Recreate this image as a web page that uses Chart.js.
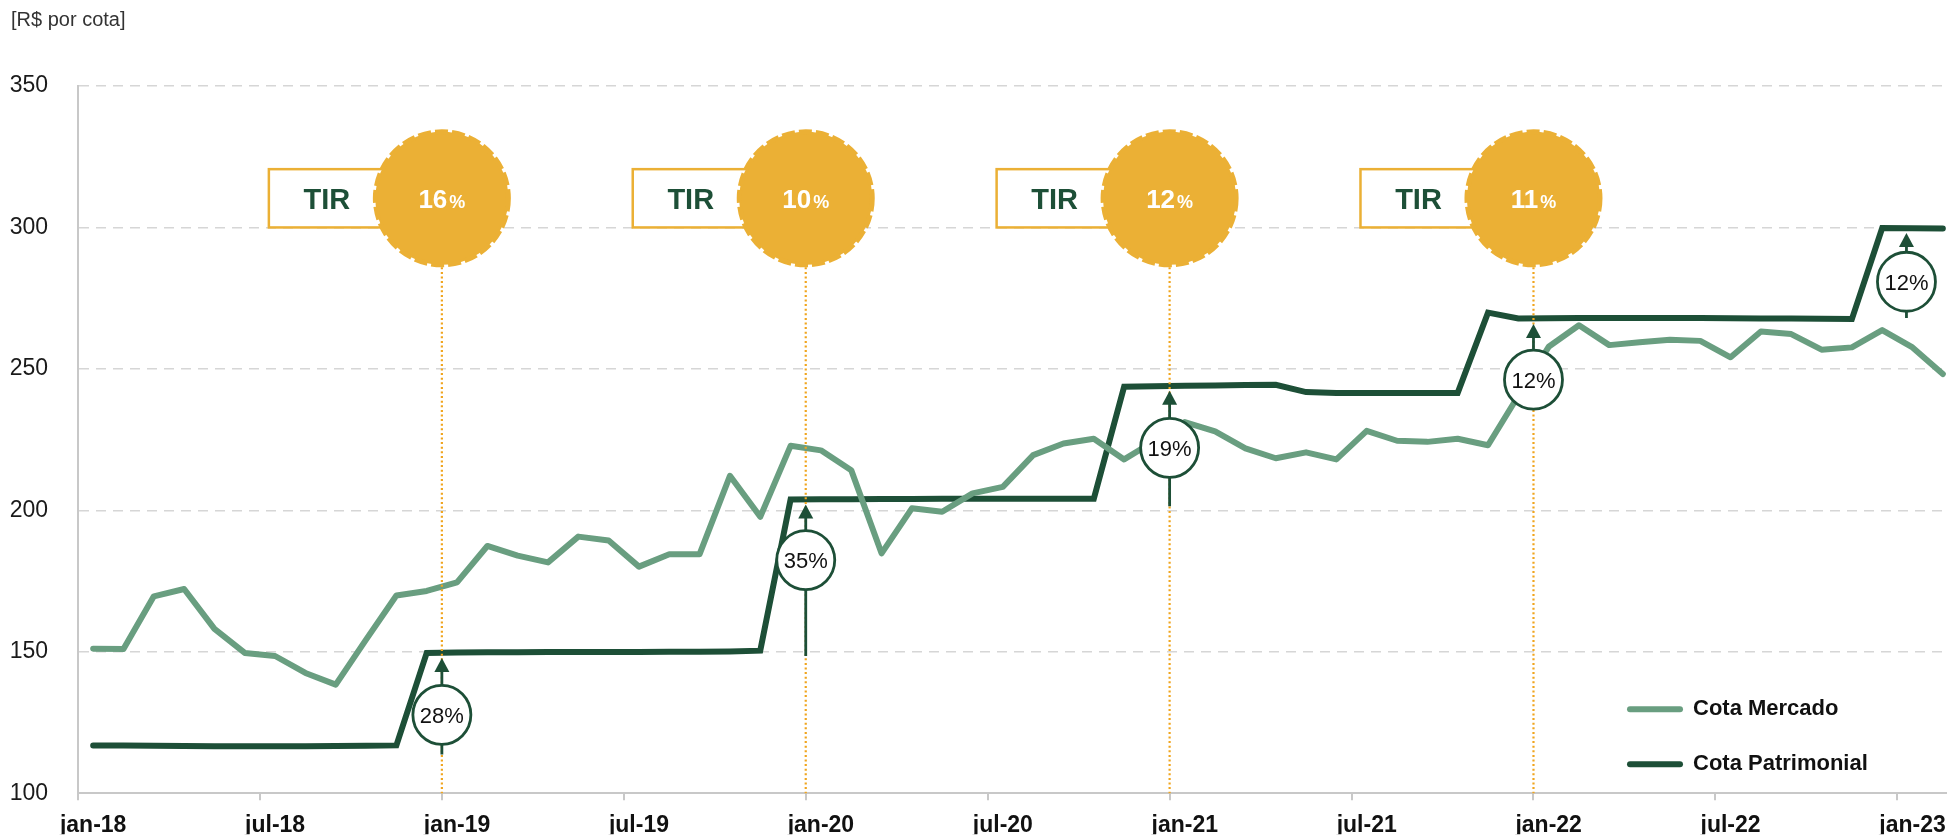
<!DOCTYPE html>
<html lang="pt-BR">
<head>
<meta charset="utf-8">
<title>Cota Mercado x Cota Patrimonial</title>
<script src="https://cdn.jsdelivr.net/npm/chart.js@4.4.0/dist/chart.umd.min.js"></script>
<style>
    html, body { margin: 0; padding: 0; background: #ffffff; overflow: hidden; }
    #wrap { position: relative; width: 1958px; height: 837px; }
</style>
</head>
<body>
<div id="wrap"><canvas id="cotaChart"></canvas></div>
<script>
const meses = [
    "jan-18", "fev-18", "mar-18", "abr-18", "mai-18", "jun-18", "jul-18", "ago-18", "set-18", "out-18", "nov-18", "dez-18",
    "jan-19", "fev-19", "mar-19", "abr-19", "mai-19", "jun-19", "jul-19", "ago-19", "set-19", "out-19", "nov-19", "dez-19",
    "jan-20", "fev-20", "mar-20", "abr-20", "mai-20", "jun-20", "jul-20", "ago-20", "set-20", "out-20", "nov-20", "dez-20",
    "jan-21", "fev-21", "mar-21", "abr-21", "mai-21", "jun-21", "jul-21", "ago-21", "set-21", "out-21", "nov-21", "dez-21",
    "jan-22", "fev-22", "mar-22", "abr-22", "mai-22", "jun-22", "jul-22", "ago-22", "set-22", "out-22", "nov-22", "dez-22",
    "jan-23", "fev-23"
];

const cotaMercado = [
    151.1, 151.0, 169.6, 172.2, 158.1, 149.6, 148.5, 142.5, 138.4, 154.3, 169.9, 171.5,
    174.5, 187.4, 184.0, 181.6, 190.7, 189.3, 180.1, 184.5, 184.5, 212.2, 197.7, 222.8,
    221.2, 214.2, 184.8, 200.7, 199.5, 206.0, 208.3, 219.5, 223.6, 225.3, 218.0, 224.5,
    231.2, 227.9, 221.9, 218.4, 220.5, 218.0, 228.1, 224.6, 224.2, 225.3, 223.0, 240.5,
    257.8, 265.4, 258.4, 259.4, 260.3, 259.9, 254.1, 263.2, 262.3, 256.8, 257.6, 263.7,
    257.6, 248.2
];

const cotaPatrimonial = [
    116.9, 116.9, 116.8, 116.7, 116.6, 116.6, 116.6, 116.6, 116.7, 116.8, 116.9, 149.6,
    149.7, 149.8, 149.8, 149.9, 149.9, 149.9, 149.9, 150.0, 150.0, 150.1, 150.4, 203.8,
    203.9, 203.9, 204.0, 204.0, 204.1, 204.1, 204.1, 204.1, 204.1, 204.1, 243.7, 243.9,
    244.0, 244.1, 244.3, 244.4, 241.8, 241.5, 241.5, 241.5, 241.5, 241.5, 269.9, 267.8,
    267.9, 268.0, 268.0, 268.0, 268.0, 268.0, 267.9, 267.8, 267.8, 267.7, 267.6, 299.8,
    299.7, 299.6
];

const yTicks = [100, 150, 200, 250, 300, 350];

// TIR de cada ano (selos amarelos)
const tirMeses = ["jan-19", "jan-20", "jan-21", "jan-22"];
const tirValores = ["16", "10", "12", "11"];

// saltos da cota patrimonial
const saltoRotulos = ["28%", "35%", "19%", "12%", "12%"];
const saltoPosicao = [11.5, 23.5, 35.5, 47.5, 59.8];
const saltoDe = [113.7, 148.5, 201.4, null, 268.0];
const saltoPara = [149.6, 203.8, 244.0, 267.6, 299.8];
const saltoCentro = [127.7, 182.4, 222.1, 246.2, 280.8];

const FONTE = "'Liberation Sans', Arial, Helvetica, sans-serif";
const verdeClaro = "#699e80";
const verdeEscuro = "#1d4f37";
const dourado = "#ebb035";
const laranja = "#f0a51e";
const cinzaEixo = "#c8c8c8";

Chart.defaults.font.family = FONTE;

function mostraRotulo(i)
{
    const m = meses[i];
    return m !== undefined && (m.startsWith("jan") || m.startsWith("jul"));
}

function desenhaTir(ctx, cx, topo, base, valor)
{
    const cy = (topo + base) / 2;
    const r = 66.5;

    // caixa "TIR"
    ctx.save();
    ctx.fillStyle = "#ffffff";
    ctx.strokeStyle = dourado;
    ctx.lineWidth = 2.5;
    ctx.fillRect(cx - 173, topo, 173, base - topo);
    ctx.strokeRect(cx - 173, topo, 173, base - topo);

    ctx.fillStyle = verdeEscuro;
    ctx.font = "bold 29px " + FONTE;
    ctx.textAlign = "center";
    ctx.textBaseline = "alphabetic";
    ctx.fillText("TIR", cx - 115, cy + 11);

    // selo
    ctx.beginPath();
    ctx.arc(cx, cy, r, 0, Math.PI * 2);
    ctx.fillStyle = dourado;
    ctx.fill();
    ctx.setLineDash([13, 4]);
    ctx.lineWidth = 5;
    ctx.strokeStyle = dourado;
    ctx.stroke();
    ctx.setLineDash([]);

    ctx.fillStyle = "#ffffff";
    ctx.textAlign = "left";
    ctx.font = "bold 26px " + FONTE;
    const w1 = ctx.measureText(valor).width;
    ctx.font = "bold 18px " + FONTE;
    const w2 = ctx.measureText("%").width;
    const x0 = cx - (w1 + 2 + w2) / 2;
    ctx.font = "bold 26px " + FONTE;
    ctx.fillText(valor, x0, cy + 10);
    ctx.font = "bold 18px " + FONTE;
    ctx.fillText("%", x0 + w1 + 2, cy + 10);
    ctx.restore();
}

function desenhaSalto(ctx, cx, yTopo, yCentro, yBase, texto)
{
    const rx = 29, ry = 29.5;
    ctx.save();
    ctx.fillStyle = verdeEscuro;
    ctx.strokeStyle = verdeEscuro;
    ctx.lineWidth = 2.8;

    // seta
    ctx.beginPath();
    ctx.moveTo(cx, yTopo);
    ctx.lineTo(cx - 7.5, yTopo + 14);
    ctx.lineTo(cx + 7.5, yTopo + 14);
    ctx.closePath();
    ctx.fill();

    ctx.beginPath();
    ctx.moveTo(cx, yTopo + 13);
    ctx.lineTo(cx, yCentro - ry);
    if (yBase !== null && yBase > yCentro + ry)
    {
        ctx.moveTo(cx, yCentro + ry);
        ctx.lineTo(cx, yBase);
    }
    ctx.stroke();

    ctx.beginPath();
    ctx.ellipse(cx, yCentro, rx, ry, 0, 0, Math.PI * 2);
    ctx.fillStyle = "#ffffff";
    ctx.fill();
    ctx.stroke();

    ctx.fillStyle = "#111111";
    ctx.font = "22px " + FONTE;
    ctx.textAlign = "center";
    ctx.textBaseline = "alphabetic";
    ctx.fillText(texto, cx, yCentro + 8);
    ctx.restore();
}

const anotacoes = {
    id: "anotacoes",
    afterDatasetsDraw: function(chart)
    {
        const ctx = chart.ctx;
        const sx = chart.scales.x;
        const sy = chart.scales.y;
        const area = chart.chartArea;
        const meia = (sx.getPixelForValue(1) - sx.getPixelForValue(0)) / 2;

        const posTir = tirMeses.map(function(m) { return sx.getPixelForValue(meses.indexOf(m)) - meia; });
        const topo = sy.getPixelForValue(320.6);
        const base = sy.getPixelForValue(300);
        const fimSelo = (topo + base) / 2 + 69;

        // linhas pontilhadas
        ctx.save();
        ctx.strokeStyle = laranja;
        ctx.lineWidth = 2.2;
        ctx.setLineDash([2, 2.6]);
        posTir.forEach(function(x)
        {
            ctx.beginPath();
            ctx.moveTo(x, fimSelo);
            ctx.lineTo(x, area.bottom);
            ctx.stroke();
        });
        ctx.restore();

        // saltos da cota patrimonial
        saltoRotulos.forEach(function(txt, i)
        {
            const cx = sx.getPixelForValue(saltoPosicao[i]);
            const yTopo = sy.getPixelForValue(saltoPara[i]) + 5;
            const yCentro = sy.getPixelForValue(saltoCentro[i]);
            const yBase = saltoDe[i] === null ? null : sy.getPixelForValue(saltoDe[i]);
            desenhaSalto(ctx, cx, yTopo, yCentro, yBase, txt);
        });

        // selos TIR
        posTir.forEach(function(x, i)
        {
            desenhaTir(ctx, x, topo, base, tirValores[i]);
        });
    }
};

const legendaTitulo = {
    id: "legendaTitulo",
    afterDraw: function(chart)
    {
        const ctx = chart.ctx;
        const area = chart.chartArea;
        ctx.save();

        // unidade do eixo
        ctx.fillStyle = "#333333";
        ctx.font = "20px " + FONTE;
        ctx.textAlign = "left";
        ctx.textBaseline = "middle";
        ctx.fillText("[R$ por cota]", 11, 20);

        // legenda
        chart.data.datasets.forEach(function(ds, i)
        {
            const y = area.bottom - 84 + i * 55;
            ctx.strokeStyle = ds.borderColor;
            ctx.lineWidth = 6;
            ctx.lineCap = "round";
            ctx.beginPath();
            ctx.moveTo(area.right - 328, y);
            ctx.lineTo(area.right - 278, y);
            ctx.stroke();

            ctx.fillStyle = "#111111";
            ctx.font = "bold 22px " + FONTE;
            ctx.fillText(ds.label, area.right - 265, y);
        });
        ctx.restore();
    }
};

const ctx = document.getElementById("cotaChart").getContext("2d");

new Chart(ctx,
{
    type: "line",
    data:
    {
        labels: meses,
        datasets: [
            {
                label: "Cota Mercado",
                data: cotaMercado,
                borderColor: verdeClaro,
                backgroundColor: verdeClaro,
                borderWidth: 6,
                borderCapStyle: "round",
                borderJoinStyle: "round",
                pointRadius: 0,
                tension: 0
            },
            {
                label: "Cota Patrimonial",
                data: cotaPatrimonial,
                borderColor: verdeEscuro,
                backgroundColor: verdeEscuro,
                borderWidth: 6,
                borderCapStyle: "round",
                borderJoinStyle: "miter",
                pointRadius: 0,
                tension: 0
            }
        ]
    },
    options:
    {
        responsive: true,
        maintainAspectRatio: false,
        animation: false,
        layout: { padding: { top: 86, left: 0, right: 0, bottom: 0 } },
        plugins:
        {
            legend: { display: false },
            title: { display: false },
            tooltip: { enabled: false }
        },
        scales:
        {
            x:
            {
                type: "category",
                offset: true,
                afterFit: function(scale) { scale.height = 41; },
                grid:
                {
                    offset: true,
                    drawOnChartArea: false,
                    drawTicks: true,
                    tickLength: 7,
                    lineWidth: 2,
                    color: function(c)
                    {
                        return mostraRotulo(c.index) ? cinzaEixo : "rgba(0,0,0,0)";
                    }
                },
                border: { display: true, color: cinzaEixo, width: 2 },
                ticks:
                {
                    autoSkip: false,
                    maxRotation: 0,
                    padding: 12,
                    color: "#111111",
                    font: { size: 23, weight: "bold" },
                    callback: function(value, index)
                    {
                        return mostraRotulo(index) ? meses[index] : "";
                    }
                }
            },
            y:
            {
                min: yTicks[0],
                max: yTicks[yTicks.length - 1],
                afterFit: function(scale) { scale.width = 78; },
                afterBuildTicks: function(scale)
                {
                    scale.ticks = yTicks.map(function(v) { return { value: v }; });
                },
                grid:
                {
                    drawTicks: false,
                    color: "#d6d6d6",
                    lineWidth: 1.5
                },
                border: { display: true, color: cinzaEixo, width: 2, dash: [10, 7] },
                ticks:
                {
                    padding: 30,
                    color: "#1a1a1a",
                    font: { size: 23 }
                }
            }
        }
    },
    plugins: [anotacoes, legendaTitulo]
});
</script>
</body>
</html>
